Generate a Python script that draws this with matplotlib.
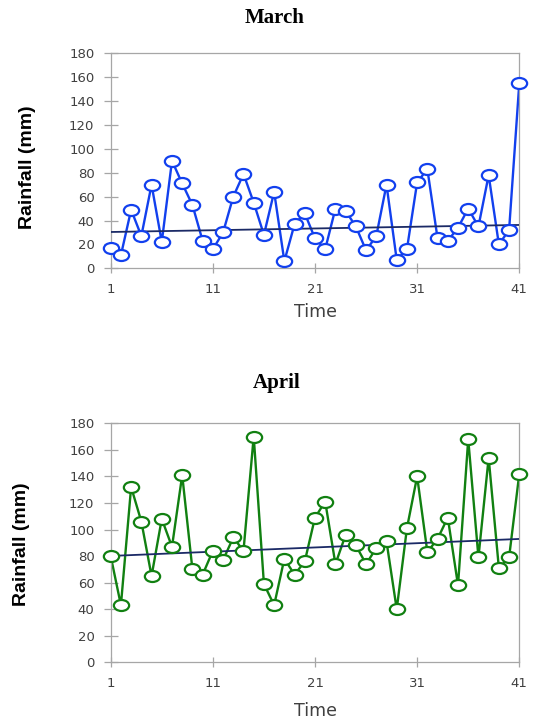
"""
Rainfall time series, March and April, with linear trend lines
"""
import numpy as np
import matplotlib.pyplot as plt
from matplotlib.path import Path

# data
time = list(range(1, 42))
march_rain = [17, 11, 49, 27, 70, 22, 90, 71, 53, 23,
              16, 30, 60, 79, 55, 28, 64, 6, 37, 46,
              25, 16, 50, 48, 35, 15, 27, 70, 7, 16,
              72, 83, 25, 23, 34, 50, 35, 78, 20, 32,
              155]
april_rain = [80, 43, 132, 106, 65, 108, 87, 141, 70, 66,
              84, 77, 94, 84, 170, 59, 43, 78, 66, 76,
              109, 121, 74, 96, 88, 74, 86, 91, 40, 101,
              140, 83, 93, 109, 58, 168, 79, 154, 71, 79,
              142]
# trend line end values (x=1 and x=41)
march_trend = [30.4, 36.3]
april_trend = [80.1, 92.9]
yticks = [0, 20, 40, 60, 80, 100, 120, 140, 160, 180]
xticks = [1, 11, 21, 31, 41]

W, H = 537, 719
fig = plt.figure(figsize=(W / 100, H / 100), dpi=100)

# ellipse marker (reference is a little stretched sideways)
circ = Path.unit_circle()
ellipse = Path(circ.vertices * np.array([1.0, 0.72]), circ.codes)


def draw_panel(rect, values, trend, color, title, title_y, ylab_xy, xlab_y):
    ax = fig.add_axes(rect)
    ax.plot(time, values, color=color, lw=1.7, zorder=2)
    ax.plot([time[0], time[-1]], trend, color='#1b2a66', lw=1.3, zorder=3)
    ax.plot(time, values, linestyle='none', marker=ellipse, markersize=11,
            markerfacecolor='white', markeredgecolor=color, markeredgewidth=1.6,
            zorder=4, clip_on=False)
    ax.set_xlim(1, 41)
    ax.set_ylim(0, 180)
    ax.set_xticks(xticks)
    ax.set_yticks(yticks)
    for s in ax.spines.values():
        s.set_color('#a6a6a6')
        s.set_linewidth(0.9)
    ax.tick_params(axis='y', direction='inout', length=9.5, width=0.9,
                   color='#a6a6a6', labelcolor='#404040', labelsize=9.5, pad=7)
    ax.tick_params(axis='x', direction='inout', length=7.5, width=0.9,
                   color='#a6a6a6', labelcolor='#404040', labelsize=9.5, pad=7)
    fig.text(title_y[0] / W, 1 - title_y[1] / H, title, ha='center', va='center',
             fontsize=15, fontweight='bold', family='Liberation Serif')
    fig.text(ylab_xy[0] / W, 1 - ylab_xy[1] / H, 'Rainfall (mm)', rotation=90,
             ha='center', va='center', fontsize=14, fontweight='bold',
             family='Liberation Sans')
    fig.text(315 / W, 1 - xlab_y / H, 'Time', ha='center', va='center',
             fontsize=12.5, color='#404040')
    return ax


left = 110.7 / W
width = (519.3 - 110.7) / W
draw_panel([left, 1 - 268.3 / H, width, (268.3 - 53.3) / H],
           march_rain, march_trend, '#1240ee', 'March', (275, 18), (28, 167), 312)
draw_panel([left, 1 - 662.3 / H, width, (662.3 - 423.3) / H],
           april_rain, april_trend, '#118011', 'April', (277, 383), (22, 544), 711)

plt.savefig('out.png', dpi=100)
